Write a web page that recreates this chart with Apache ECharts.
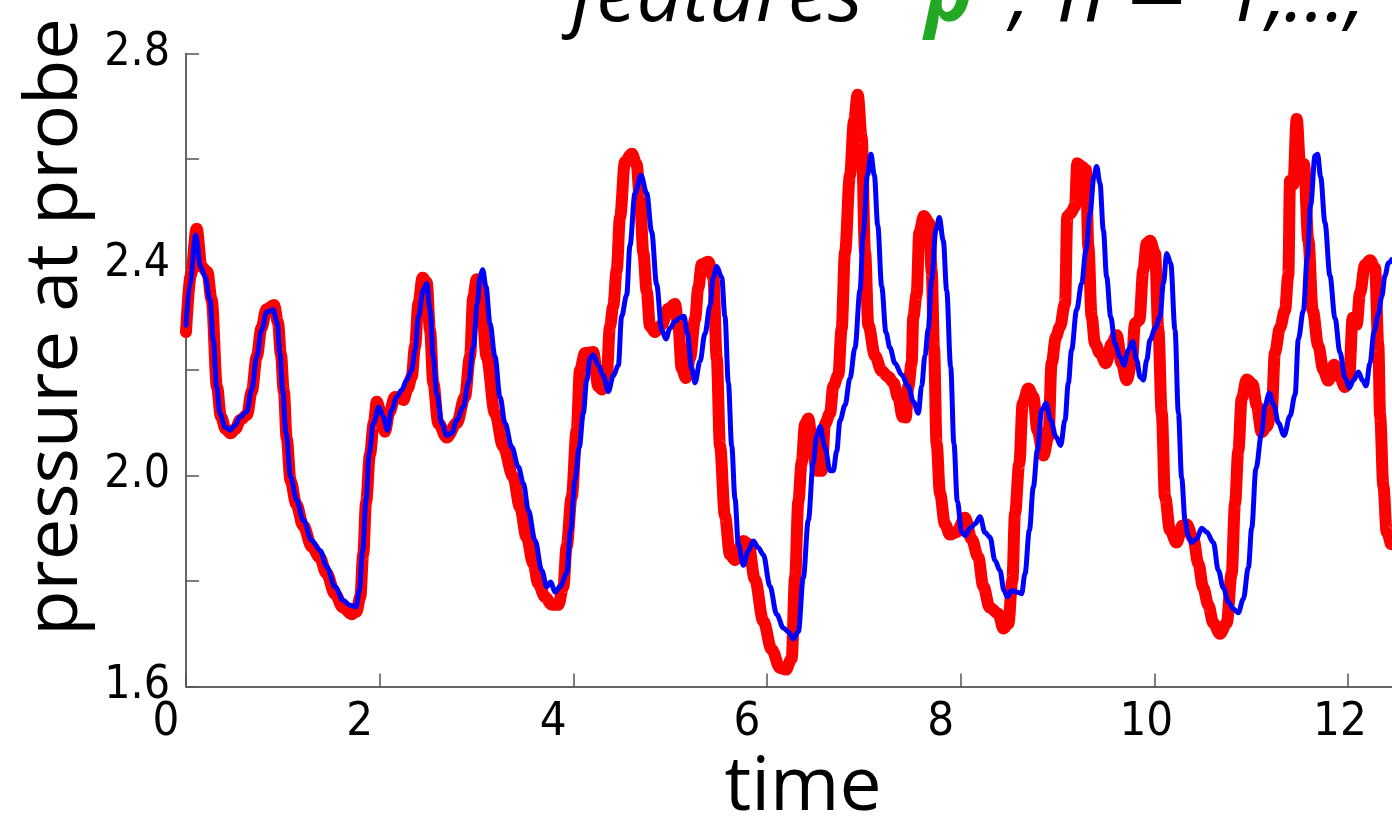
<!DOCTYPE html>
<html>
<head>
<meta charset="utf-8">
<script src="https://cdn.jsdelivr.net/npm/echarts@6/dist/echarts.min.js"></script>
<style>
  html, body { margin: 0; padding: 0; background: #ffffff; }
  #chart { width: 1392px; height: 819px; }
</style>
</head>
<body>
<div id="chart"></div>
<script>
// Reference pressure signal (thick red) and its reconstruction (thin blue)
const redTime = [
  0, 0.05, 0.11, 0.16, 0.22, 0.265, 0.32, 0.36, 0.41, 0.46, 0.51, 0.56, 0.63, 0.68, 0.73, 0.78, 0.83, 0.91, 0.95, 0.98,
  1.01, 1.04, 1.08, 1.14, 1.21, 1.30, 1.38, 1.45, 1.54, 1.62, 1.71, 1.76, 1.80, 1.83, 1.86, 1.90, 1.94, 1.97, 2.01, 2.055,
  2.10, 2.158, 2.20, 2.244, 2.29, 2.331, 2.365, 2.40, 2.444, 2.486, 2.52, 2.554, 2.606, 2.692, 2.796, 2.881, 2.933, 2.967, 3.002, 3.053,
  3.105, 3.191, 3.277, 3.380, 3.449, 3.518, 3.587, 3.638, 3.708, 3.777, 3.845, 3.897, 3.931, 3.983, 4.035, 4.069, 4.121, 4.206, 4.258, 4.293,
  4.344, 4.379, 4.413, 4.448, 4.482, 4.534, 4.603, 4.654, 4.689, 4.723, 4.758, 4.792, 4.843, 4.913, 4.981, 5.050, 5.085, 5.119, 5.164, 5.205,
  5.257, 5.291, 5.326, 5.394, 5.446, 5.481, 5.515, 5.566, 5.618, 5.670, 5.756, 5.807, 5.876, 5.962, 6.049, 6.135, 6.195, 6.255, 6.290, 6.324,
  6.358, 6.393, 6.427, 6.468, 6.513, 6.565, 6.599, 6.651, 6.685, 6.737, 6.771, 6.806, 6.857, 6.899, 6.937, 6.978, 7.013, 7.047, 7.116, 7.185,
  7.253, 7.305, 7.357, 7.402, 7.433, 7.460, 7.494, 7.511, 7.546, 7.573, 7.621, 7.676, 7.701, 7.725, 7.752, 7.787, 7.838, 7.890, 7.959, 8.045,
  8.114, 8.182, 8.234, 8.300, 8.390, 8.441, 8.493, 8.534, 8.562, 8.606, 8.641, 8.699, 8.751, 8.793, 8.855, 8.906, 8.940, 8.985, 9.026, 9.078,
  9.102, 9.136, 9.181, 9.205, 9.250, 9.295, 9.319, 9.353, 9.388, 9.439, 9.501, 9.560, 9.612, 9.663, 9.715, 9.767, 9.801, 9.846, 9.887, 9.922,
  9.956, 10.008, 10.042, 10.077, 10.111, 10.163, 10.231, 10.290, 10.334, 10.403, 10.455, 10.506, 10.558, 10.610, 10.679, 10.748, 10.799, 10.834, 10.868, 10.903,
  10.955, 11.016, 11.057, 11.109, 11.161, 11.212, 11.246, 11.298, 11.350, 11.384, 11.402, 11.436, 11.471, 11.505, 11.546, 11.591, 11.636, 11.694, 11.746, 11.797,
  11.856, 11.918, 11.969, 12.014, 12.049, 12.090, 12.125, 12.176, 12.228, 12.280, 12.314, 12.332, 12.366, 12.400, 12.442
];
const redPressure = [
  2.272, 2.380, 2.468, 2.396, 2.386, 2.333, 2.168, 2.112, 2.088, 2.080, 2.088, 2.105, 2.115, 2.160, 2.225, 2.280, 2.315, 2.323, 2.290, 2.230,
  2.160, 2.070, 1.990, 1.945, 1.905, 1.865, 1.845, 1.815, 1.775, 1.750, 1.737, 1.742, 1.770, 1.850, 1.950, 2.040, 2.100, 2.140, 2.120, 2.083,
  2.120, 2.149, 2.148, 2.143, 2.165, 2.187, 2.244, 2.326, 2.375, 2.366, 2.276, 2.175, 2.099, 2.072, 2.099, 2.149, 2.225, 2.339, 2.372, 2.326,
  2.225, 2.118, 2.054, 1.997, 1.940, 1.883, 1.833, 1.795, 1.770, 1.755, 1.755, 1.789, 1.865, 1.959, 2.086, 2.200, 2.232, 2.234, 2.169, 2.163,
  2.189, 2.283, 2.322, 2.389, 2.489, 2.595, 2.610, 2.590, 2.522, 2.422, 2.349, 2.283, 2.272, 2.286, 2.316, 2.325, 2.283, 2.203, 2.185, 2.223,
  2.296, 2.356, 2.400, 2.405, 2.376, 2.223, 2.056, 1.923, 1.850, 1.840, 1.876, 1.870, 1.803, 1.724, 1.670, 1.635, 1.632, 1.653, 1.806, 1.951,
  2.024, 2.097, 2.108, 2.060, 2.009, 2.009, 2.097, 2.118, 2.169, 2.191, 2.278, 2.423, 2.569, 2.672, 2.722, 2.641, 2.423, 2.285, 2.227, 2.198,
  2.187, 2.176, 2.147, 2.111, 2.110, 2.169, 2.213, 2.300, 2.344, 2.460, 2.492, 2.478, 2.387, 2.242, 2.060, 1.966, 1.908, 1.888, 1.893, 1.920,
  1.879, 1.845, 1.790, 1.750, 1.738, 1.710, 1.719, 1.801, 1.928, 2.023, 2.137, 2.165, 2.149, 2.086, 2.038, 2.073, 2.213, 2.263, 2.282, 2.326,
  2.491, 2.497, 2.510, 2.592, 2.586, 2.579, 2.434, 2.301, 2.250, 2.232, 2.213, 2.250, 2.266, 2.213, 2.181, 2.213, 2.288, 2.295, 2.390, 2.440,
  2.445, 2.421, 2.276, 2.118, 1.959, 1.896, 1.873, 1.905, 1.907, 1.880, 1.833, 1.787, 1.754, 1.720, 1.700, 1.720, 1.814, 1.947, 2.047, 2.146,
  2.182, 2.173, 2.133, 2.082, 2.093, 2.120, 2.233, 2.280, 2.313, 2.379, 2.559, 2.552, 2.676, 2.593, 2.590, 2.446, 2.313, 2.246, 2.200, 2.180,
  2.210, 2.186, 2.168, 2.193, 2.299, 2.286, 2.346, 2.399, 2.408, 2.393, 2.246, 2.113, 1.980, 1.893, 1.870
];

const blueTime = [
  0, 0.041, 0.100, 0.151, 0.196, 0.248, 0.282, 0.317, 0.351, 0.403, 0.454, 0.506, 0.558, 0.627, 0.678, 0.730, 0.782, 0.833, 0.902, 0.943,
  0.971, 0.998, 1.033, 1.081, 1.143, 1.212, 1.298, 1.384, 1.453, 1.539, 1.625, 1.694, 1.756, 1.790, 1.825, 1.859, 1.893, 1.934, 1.993, 2.038,
  2.079, 2.124, 2.176, 2.228, 2.279, 2.331, 2.365, 2.400, 2.451, 2.486, 2.520, 2.554, 2.589, 2.641, 2.692, 2.744, 2.796, 2.864, 2.916, 2.967,
  3.009, 3.036, 3.064, 3.098, 3.140, 3.191, 3.243, 3.295, 3.364, 3.433, 3.484, 3.536, 3.605, 3.674, 3.726, 3.767, 3.811, 3.862, 3.931, 3.972,
  4.017, 4.062, 4.103, 4.138, 4.172, 4.206, 4.258, 4.310, 4.361, 4.413, 4.465, 4.499, 4.551, 4.585, 4.637, 4.699, 4.758, 4.809, 4.861, 4.913,
  4.957, 4.998, 5.050, 5.102, 5.143, 5.178, 5.223, 5.257, 5.308, 5.360, 5.412, 5.446, 5.481, 5.532, 5.566, 5.601, 5.636, 5.670, 5.704, 5.756,
  5.807, 5.859, 5.911, 5.962, 6.031, 6.100, 6.169, 6.221, 6.272, 6.324, 6.375, 6.427, 6.478, 6.513, 6.547, 6.599, 6.651, 6.685, 6.720, 6.754,
  6.806, 6.857, 6.909, 6.961, 6.995, 7.037, 7.074, 7.109, 7.144, 7.185, 7.229, 7.270, 7.322, 7.391, 7.460, 7.511, 7.563, 7.597, 7.632, 7.666,
  7.701, 7.745, 7.780, 7.821, 7.856, 7.897, 7.931, 7.966, 8.011, 8.045, 8.097, 8.148, 8.200, 8.252, 8.303, 8.355, 8.406, 8.448, 8.482, 8.527,
  8.579, 8.630, 8.665, 8.710, 8.751, 8.793, 8.837, 8.882, 8.930, 8.985, 9.033, 9.078, 9.112, 9.146, 9.198, 9.250, 9.295, 9.336, 9.377, 9.405,
  9.439, 9.474, 9.508, 9.550, 9.594, 9.646, 9.687, 9.732, 9.777, 9.818, 9.853, 9.887, 9.922, 9.956, 10.008, 10.059, 10.094, 10.128, 10.170, 10.214,
  10.249, 10.283, 10.318, 10.350, 10.386, 10.438, 10.489, 10.541, 10.610, 10.662, 10.713, 10.765, 10.817, 10.868, 10.920, 10.972, 11.006, 11.050, 11.109, 11.143,
  11.188, 11.236, 11.281, 11.340, 11.402, 11.454, 11.488, 11.540, 11.580, 11.615, 11.660, 11.687, 11.718, 11.763, 11.814, 11.866, 11.918, 11.969, 12.014, 12.055,
  12.107, 12.153, 12.187, 12.228, 12.270, 12.314, 12.349, 12.383, 12.418, 12.452
];
const bluePressure = [
  2.285, 2.364, 2.456, 2.396, 2.377, 2.333, 2.257, 2.168, 2.118, 2.092, 2.086, 2.095, 2.111, 2.121, 2.162, 2.225, 2.276, 2.310, 2.314, 2.288,
  2.231, 2.162, 2.080, 1.997, 1.953, 1.915, 1.877, 1.858, 1.827, 1.789, 1.763, 1.754, 1.751, 1.782, 1.858, 1.953, 2.042, 2.099, 2.130, 2.111,
  2.086, 2.124, 2.149, 2.162, 2.181, 2.200, 2.238, 2.301, 2.352, 2.364, 2.314, 2.225, 2.156, 2.099, 2.076, 2.080, 2.105, 2.130, 2.175, 2.244,
  2.326, 2.377, 2.390, 2.358, 2.288, 2.225, 2.149, 2.099, 2.054, 2.016, 1.985, 1.934, 1.877, 1.820, 1.789, 1.798, 1.779, 1.789, 1.814, 1.896,
  1.991, 2.054, 2.118, 2.180, 2.222, 2.229, 2.209, 2.189, 2.159, 2.189, 2.209, 2.302, 2.342, 2.436, 2.535, 2.569, 2.535, 2.462, 2.362, 2.276,
  2.259, 2.279, 2.292, 2.299, 2.302, 2.269, 2.203, 2.176, 2.216, 2.269, 2.322, 2.376, 2.396, 2.376, 2.302, 2.176, 2.056, 1.956, 1.870, 1.830,
  1.857, 1.876, 1.863, 1.850, 1.790, 1.737, 1.711, 1.704, 1.690, 1.704, 1.806, 1.915, 2.024, 2.075, 2.093, 2.053, 2.009, 2.009, 2.046, 2.104,
  2.133, 2.184, 2.242, 2.351, 2.460, 2.569, 2.609, 2.569, 2.474, 2.358, 2.271, 2.242, 2.213, 2.191, 2.169, 2.140, 2.118, 2.169, 2.227, 2.278,
  2.372, 2.466, 2.489, 2.445, 2.351, 2.206, 2.060, 1.951, 1.893, 1.886, 1.900, 1.908, 1.922, 1.892, 1.883, 1.839, 1.820, 1.782, 1.770, 1.782,
  1.779, 1.776, 1.814, 1.896, 1.978, 2.048, 2.124, 2.137, 2.105, 2.073, 2.057, 2.105, 2.175, 2.238, 2.314, 2.364, 2.428, 2.497, 2.567, 2.586,
  2.554, 2.465, 2.377, 2.301, 2.250, 2.225, 2.209, 2.238, 2.254, 2.219, 2.187, 2.181, 2.219, 2.257, 2.279, 2.301, 2.364, 2.421, 2.402, 2.276,
  2.118, 1.995, 1.915, 1.885, 1.873, 1.880, 1.900, 1.893, 1.873, 1.820, 1.787, 1.760, 1.747, 1.740, 1.766, 1.826, 1.900, 2.013, 2.080, 2.133,
  2.156, 2.133, 2.100, 2.076, 2.113, 2.153, 2.259, 2.313, 2.413, 2.513, 2.606, 2.609, 2.566, 2.479, 2.379, 2.299, 2.233, 2.186, 2.166, 2.180,
  2.196, 2.180, 2.170, 2.213, 2.273, 2.306, 2.339, 2.379, 2.403, 2.409
];

// Axis ticks and the subset of them that carry a label
const xTickValues = [0, 2, 4, 6, 8, 10, 12];
const yTickValues = [1.6, 1.8, 2.0, 2.2, 2.4, 2.6, 2.8];
const yLabelValues = [1.6, 2.0, 2.4, 2.8];

const tickFont = "'Liberation Sans Narrow', 'DejaVu Sans Condensed', 'Liberation Sans', sans-serif";
const textFont = "'Open Sans', 'Noto Sans', sans-serif";
const titleFont = "italic 81px 'Open Sans'";

const pairs = (xs, ys) => xs.map((x, i) => [x, ys[i]]);

// Title pieces: feature symbol p with its superscript, then the index range
const titleY = -2;
const titleText = (text, x, font, fill, y) => ({
  type: 'text', x: x, y: y === undefined ? titleY : y, silent: true,
  style: { text: text, font: font, fill: fill || '#000', verticalAlign: 'middle', align: 'left' }
});

const chart = echarts.init(document.getElementById('chart'), null, { renderer: 'canvas' });

chart.setOption({
  animation: false,
  backgroundColor: '#ffffff',
  grid: { left: 186, right: 0, top: 53.5, bottom: 132.5, outerBoundsMode: 'none' },
  xAxis: {
    type: 'value',
    min: 0,
    max: 12.455,
    interval: 2,
    name: 'time',
    nameLocation: 'middle',
    nameGap: 62,
    nameTextStyle: { fontFamily: textFont, fontSize: 75, color: '#000', padding: [0, 0, 0, 28] },
    axisLine: { show: true, lineStyle: { color: '#333', width: 1.5 } },
    axisTick: { show: true, inside: true, length: 13, customValues: xTickValues, lineStyle: { color: '#555', width: 1.5 } },
    axisLabel: {
      customValues: xTickValues,
      margin: 13,
      formatter: v => (v >= 10 ? '{w|' + v + '}' : '{n|' + v + '}'),
      rich: {
        n: { fontFamily: tickFont, fontSize: 47, color: '#000', padding: [0, 40, 0, 0] },
        w: { fontFamily: tickFont, fontSize: 47, color: '#000', padding: [0, 16, 0, 0] }
      }
    },
    splitLine: { show: false }
  },
  yAxis: {
    type: 'value',
    min: 1.6,
    max: 2.8,
    interval: 0.2,
    name: 'pressure at probe',
    nameLocation: 'middle',
    nameGap: 86,
    nameTextStyle: { fontFamily: textFont, fontSize: 74, color: '#000', padding: [0, 0, 0, 86] },
    axisLine: { show: true, lineStyle: { color: '#333', width: 1.5 } },
    axisTick: { show: true, inside: true, length: 13, customValues: yTickValues, lineStyle: { color: '#555', width: 1.5 } },
    axisLabel: {
      customValues: yLabelValues,
      margin: 16,
      fontFamily: tickFont,
      fontSize: 46,
      color: '#000',
      formatter: v => v.toFixed(1)
    },
    splitLine: { show: false }
  },
  graphic: [
    titleText('features', 571, titleFont),
    titleText('p', 925, "italic bold 81px 'Open Sans'", '#22a822'),
    titleText('n', 975, "italic 54px 'Open Sans'", '#000', -42),
    titleText(',', 1010, titleFont),
    titleText('n', 1058, titleFont),
    titleText('=', 1124, "78px 'DejaVu Sans'"),
    titleText('1,', 1222, titleFont),
    titleText('\u2026,', 1284, titleFont),
    titleText('N', 1410, titleFont)
  ],
  series: [
    {
      type: 'line',
      data: pairs(redTime, redPressure),
      showSymbol: false,
      smooth: 0.35,
      smoothMonotone: 'x',
      lineStyle: { color: '#ff0000', width: 12, cap: 'round', join: 'round' },
      z: 2
    },
    {
      type: 'line',
      data: pairs(blueTime, bluePressure),
      showSymbol: false,
      smooth: 0.35,
      smoothMonotone: 'x',
      lineStyle: { color: '#0000ff', width: 5, cap: 'round', join: 'round' },
      z: 3
    }
  ]
});
</script>
</body>
</html>
